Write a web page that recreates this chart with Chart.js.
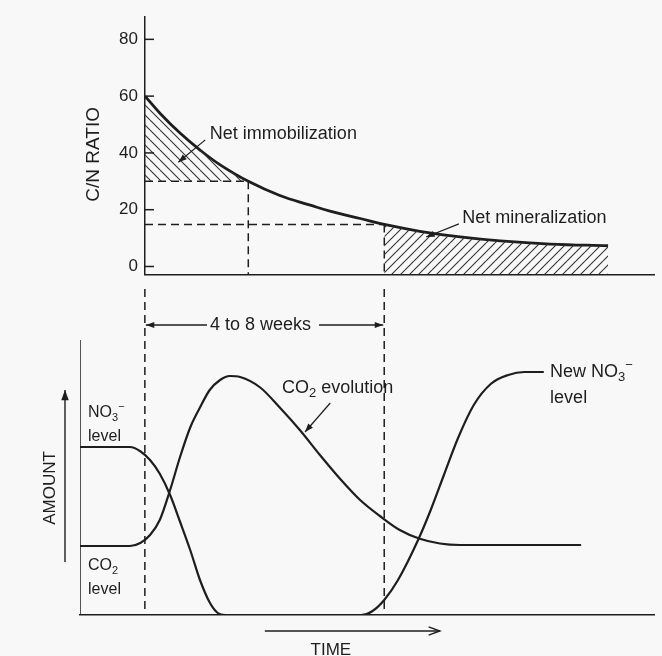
<!DOCTYPE html>
<html>
<head>
<meta charset="utf-8">
<title>C/N ratio, immobilization and mineralization</title>
<script src="https://cdn.jsdelivr.net/npm/chart.js@4.4.1/dist/chart.umd.min.js"></script>
<style>
    body { margin: 0; background: #f8f8f8; }
    #lienzo { position: relative; width: 662px; height: 656px; }
    #graficoRatio { position: absolute; left: 0; top: 0; }
    #graficoCantidad { position: absolute; left: 0; top: 289px; }
</style>
</head>
<body>
<div id="lienzo">
    <canvas id="graficoRatio" width="662" height="292"></canvas>
    <canvas id="graficoCantidad" width="662" height="367"></canvas>
</div>
<script>
// time runs in arbitrary units, shared by both panels
const tiempoRatio = [11.3, 13.9, 17.4, 20.9, 24.4, 29.3, 34.8, 40.1, 43.7, 48.8, 53, 59.2, 66.2, 73.2, 81.9, 92];
const ratioCN = [60, 54, 47, 41, 35.8, 30, 25, 21.6, 19.4, 16.9, 14.8, 12.4, 10.4, 9, 7.9, 7.3];
const ticksRatio = [0, 20, 40, 60, 80];

const inicioSemanas = 11.3;   // start of the 4 to 8 weeks span
const finSemanas = 53;        // end of the span
const finInmovil = 29.3;      // where the curve drops below the immobilization threshold
const ratioInmovil = 30;      // net immobilization threshold
const ratioMineral = 14.8;    // net mineralization threshold

const tiempoNitrato = [0, 8.7, 10.5, 12.2, 13.9, 15.7, 17.4, 19.2, 20.9, 22.6, 24.0, 25.3, 49, 50.9, 53, 55.4, 58.9, 61.1, 63.4, 65.9, 68.6, 71.6, 74.6, 77.4, 80.8];
const nitrato = [67.2, 67.2, 65.5, 62, 56.5, 48, 37.5, 26, 14, 5, 0.8, 0, 0, 1.5, 6, 14, 30, 42, 56, 71, 84, 92.5, 96, 97.2, 97.2];

const tiempoCO2 = [0, 8.7, 10.5, 12.2, 13.9, 15.7, 17.4, 19.2, 20.9, 22.6, 24.4, 26.1, 27.9, 31.4, 34.8, 38.3, 41.8, 45.3, 48.8, 52.3, 55.7, 59.2, 62.7, 66.2, 87.3];
const co2 = [27.6, 27.6, 28.8, 32, 38, 50, 63, 75, 83, 90, 94, 95.6, 95.2, 91, 83, 74, 64, 54.5, 46, 39.5, 34, 30.5, 28.6, 28, 28];

const TINTA = '#1e1e1e';
const FAMILIA = "'Liberation Sans', Arial, sans-serif";
Chart.defaults.font.family = FAMILIA;
Chart.defaults.color = TINTA;

function puntos(xs, ys) {
    return xs.map((x, i) => ({ x: x, y: ys[i] }));
}

function segmento(datos, guiones, ancho) {
    return {
        data: datos,
        borderColor: TINTA,
        borderWidth: ancho || 1.5,
        borderDash: guiones || [],
        pointRadius: 0,
        fill: false,
        tension: 0
    };
}

/**
 * Diagonal hatch pattern, '\' or '/'
 */
function crearTrama(ctxGrafico, paso, sentido) {
    const c = document.createElement('canvas');
    c.width = paso;
    c.height = paso;
    const ctx = c.getContext('2d');
    ctx.strokeStyle = '#333';
    ctx.lineWidth = 1.1;
    ctx.beginPath();
    for (let k = -1; k <= 1; k++) {
        if (sentido === '\\') {
            ctx.moveTo(0, k * paso);
            ctx.lineTo(paso, (k + 1) * paso);
        } else {
            ctx.moveTo(0, (k + 1) * paso);
            ctx.lineTo(paso, k * paso);
        }
    }
    ctx.stroke();
    return ctxGrafico.createPattern(c, 'repeat');
}

function flecha(ctx, x1, y1, x2, y2, punta, abierta) {
    ctx.beginPath();
    ctx.moveTo(x1, y1);
    ctx.lineTo(x2, y2);
    ctx.stroke();
    const ang = Math.atan2(y2 - y1, x2 - x1);
    ctx.beginPath();
    ctx.moveTo(x2 - punta * Math.cos(ang - 0.35), y2 - punta * Math.sin(ang - 0.35));
    ctx.lineTo(x2, y2);
    ctx.lineTo(x2 - punta * Math.cos(ang + 0.35), y2 - punta * Math.sin(ang + 0.35));
    if (abierta) {
        ctx.stroke();
    } else {
        ctx.closePath();
        ctx.fill();
    }
}

/**
 * Writes text with subscripts (1) and superscripts (-1)
 */
function textoQuimico(ctx, partes, x, y, tam) {
    let cx = x;
    partes.forEach(([t, modo]) => {
        const size = modo === 0 ? tam : Math.round(tam * 0.7);
        ctx.font = `${size}px ${FAMILIA}`;
        const dy = modo === 1 ? tam * 0.32 : (modo === -1 ? -tam * 0.35 : 0);
        ctx.fillText(t, cx, y + dy);
        cx += ctx.measureText(t).width;
    });
    return cx;
}

// ---------- upper panel: C/N ratio ----------
const ctxRatio = document.getElementById('graficoRatio').getContext('2d');

const anotacionesRatio = {
    id: 'anotacionesRatio',
    afterDraw(chart) {
        const { ctx, chartArea, scales: { x, y } } = chart;
        ctx.save();
        ctx.strokeStyle = TINTA;
        ctx.fillStyle = TINTA;
        ctx.lineWidth = 1.5;
        // tick marks drawn inside the axis
        ticksRatio.forEach(v => {
            const py = y.getPixelForValue(v);
            ctx.beginPath();
            ctx.moveTo(chartArea.left, py);
            ctx.lineTo(chartArea.left + 9, py);
            ctx.stroke();
        });
        // axis title
        ctx.save();
        ctx.translate(chartArea.left - 51, y.getPixelForValue(39.5));
        ctx.rotate(-Math.PI / 2);
        ctx.textAlign = 'center';
        ctx.textBaseline = 'middle';
        ctx.font = `19px ${FAMILIA}`;
        ctx.fillText('C/N RATIO', 0, 0);
        ctx.restore();

        ctx.textBaseline = 'middle';
        ctx.textAlign = 'left';
        ctx.font = `18px ${FAMILIA}`;
        ctx.fillText('Net immobilization', x.getPixelForValue(22.6), y.getPixelForValue(46.5));
        ctx.fillText('Net mineralization', x.getPixelForValue(66.6), y.getPixelForValue(16.9));
        ctx.lineWidth = 1.2;
        flecha(ctx, x.getPixelForValue(21.8), y.getPixelForValue(44.6),
            x.getPixelForValue(17.1), y.getPixelForValue(36.7), 9);
        flecha(ctx, x.getPixelForValue(66), y.getPixelForValue(15),
            x.getPixelForValue(60.3), y.getPixelForValue(10.4), 9);
        ctx.restore();
    }
};

new Chart(ctxRatio, {
    type: 'line',
    data: {
        datasets: [
            {
                data: puntos(tiempoRatio, ratioCN).filter(p => p.x <= finInmovil),
                borderWidth: 0,
                pointRadius: 0,
                tension: 0.4,
                fill: { value: ratioInmovil },
                backgroundColor: crearTrama(ctxRatio, 10, '\\')
            },
            {
                data: puntos(tiempoRatio, ratioCN).filter(p => p.x >= finSemanas),
                borderWidth: 0,
                pointRadius: 0,
                tension: 0.4,
                fill: 'start',
                backgroundColor: crearTrama(ctxRatio, 9, '/')
            },
            {
                data: puntos(tiempoRatio, ratioCN),
                borderColor: TINTA,
                borderWidth: 2.8,
                pointRadius: 0,
                tension: 0.4,
                fill: false
            },
            segmento([{ x: inicioSemanas, y: ratioInmovil }, { x: finInmovil, y: ratioInmovil }], [8, 5]),
            segmento([{ x: finInmovil, y: ratioInmovil }, { x: finInmovil, y: -2.93 }], [8, 5]),
            segmento([{ x: inicioSemanas, y: ratioMineral }, { x: finSemanas, y: ratioMineral }], [8, 5]),
            segmento([{ x: finSemanas, y: ratioMineral }, { x: finSemanas, y: -2.93 }], [8, 5])
        ]
    },
    options: {
        responsive: false,
        animation: false,
        layout: { padding: { left: 80, right: 8, top: 10, bottom: 3 } },
        plugins: { legend: { display: false }, tooltip: { enabled: false } },
        scales: {
            x: {
                type: 'linear',
                min: inicioSemanas,
                max: 100,
                ticks: { display: false },
                grid: { display: false, drawTicks: false },
                border: { display: true, color: TINTA, width: 1.5 },
                afterFit: s => { s.height = 0; }
            },
            y: {
                min: -2.93,
                max: 87.8,
                afterBuildTicks: s => { s.ticks = ticksRatio.map(v => ({ value: v })); },
                ticks: { color: TINTA, font: { size: 17 }, padding: 7 },
                grid: { display: false, drawTicks: false },
                border: { display: true, color: TINTA, width: 1.5 },
                afterFit: s => { s.width = 65; }
            }
        }
    },
    plugins: [anotacionesRatio]
});

// ---------- lower panel: NO3- and CO2 amounts ----------
const ctxCantidad = document.getElementById('graficoCantidad').getContext('2d');

const anotacionesCantidad = {
    id: 'anotacionesCantidad',
    afterDraw(chart) {
        const { ctx, chartArea, scales: { x, y } } = chart;
        ctx.save();
        ctx.strokeStyle = TINTA;
        ctx.fillStyle = TINTA;
        ctx.lineWidth = 1.4;
        ctx.textBaseline = 'middle';

        // 4 to 8 weeks span
        const ySem = y.getPixelForValue(116);
        const xIni = x.getPixelForValue(inicioSemanas);
        const xFin = x.getPixelForValue(finSemanas);
        const xMed = (xIni + xFin) / 2 - 4;
        ctx.font = `18px ${FAMILIA}`;
        ctx.textAlign = 'center';
        const ancho = ctx.measureText('4 to 8 weeks').width;
        ctx.fillText('4 to 8 weeks', xMed, ySem);
        flecha(ctx, xMed - ancho / 2 - 3, ySem, xIni + 1, ySem, 9);
        flecha(ctx, xMed + ancho / 2 + 8, ySem, xFin - 1, ySem, 9);

        // AMOUNT axis arrow
        const xCant = chartArea.left - 15;
        flecha(ctx, xCant, y.getPixelForValue(21.2), xCant, y.getPixelForValue(90), 11);
        ctx.save();
        ctx.translate(chartArea.left - 30, y.getPixelForValue(50.8));
        ctx.rotate(-Math.PI / 2);
        ctx.font = `17px ${FAMILIA}`;
        ctx.fillText('AMOUNT', 0, 0);
        ctx.restore();

        // TIME axis arrow
        const yTiempo = chartArea.bottom + 16;
        flecha(ctx, x.getPixelForValue(32.2), yTiempo, x.getPixelForValue(62.7), yTiempo, 12, true);
        ctx.font = `17px ${FAMILIA}`;
        ctx.fillText('TIME', x.getPixelForValue(43.7), chartArea.bottom + 35);

        // curve labels
        ctx.textAlign = 'left';
        const xNivel = x.getPixelForValue(1.4);
        textoQuimico(ctx, [['NO', 0], ['3', 1], ['\u2212', -1]], xNivel, y.getPixelForValue(80.8), 16);
        textoQuimico(ctx, [['level', 0]], xNivel, y.getPixelForValue(71.2), 16);
        textoQuimico(ctx, [['CO', 0], ['2', 1]], xNivel, y.getPixelForValue(19.6), 16);
        textoQuimico(ctx, [['level', 0]], xNivel, y.getPixelForValue(10), 16);

        textoQuimico(ctx, [['CO', 0], ['2', 1], [' evolution', 0]], x.getPixelForValue(35.2), y.getPixelForValue(90.8), 18);
        ctx.lineWidth = 1.2;
        flecha(ctx, x.getPixelForValue(43.6), y.getPixelForValue(84.8),
            x.getPixelForValue(39.2), y.getPixelForValue(73.2), 9);

        const xNuevo = x.getPixelForValue(81.9);
        textoQuimico(ctx, [['New NO', 0], ['3', 1], ['\u2212', -1]], xNuevo, y.getPixelForValue(97.2), 18);
        textoQuimico(ctx, [['level', 0]], xNuevo, y.getPixelForValue(86.8), 18);
        ctx.restore();
    }
};

new Chart(ctxCantidad, {
    type: 'line',
    data: {
        datasets: [
            segmento([{ x: 0, y: 0 }, { x: 0, y: 110 }], [], 1.5),
            segmento([{ x: inicioSemanas, y: 130.4 }, { x: inicioSemanas, y: 0 }], [8, 5]),
            segmento([{ x: finSemanas, y: 130.4 }, { x: finSemanas, y: 0 }], [8, 5]),
            {
                data: puntos(tiempoNitrato, nitrato),
                borderColor: TINTA,
                borderWidth: 2.2,
                pointRadius: 0,
                cubicInterpolationMode: 'monotone',
                fill: false
            },
            {
                data: puntos(tiempoCO2, co2),
                borderColor: TINTA,
                borderWidth: 2.2,
                pointRadius: 0,
                cubicInterpolationMode: 'monotone',
                fill: false
            }
        ]
    },
    options: {
        responsive: false,
        animation: false,
        layout: { padding: { left: 0, right: 8, top: 0, bottom: 41 } },
        plugins: { legend: { display: false }, tooltip: { enabled: false } },
        scales: {
            x: {
                type: 'linear',
                min: 0,
                max: 100,
                ticks: { display: false },
                grid: { display: false, drawTicks: false },
                border: { display: true, color: TINTA, width: 1.5 },
                afterFit: s => { s.height = 0; }
            },
            y: {
                min: 0,
                max: 130.4,
                ticks: { display: false },
                grid: { display: false, drawTicks: false },
                border: { display: false },
                afterFit: s => { s.width = 80; }
            }
        }
    },
    plugins: [anotacionesCantidad]
});
</script>
</body>
</html>
